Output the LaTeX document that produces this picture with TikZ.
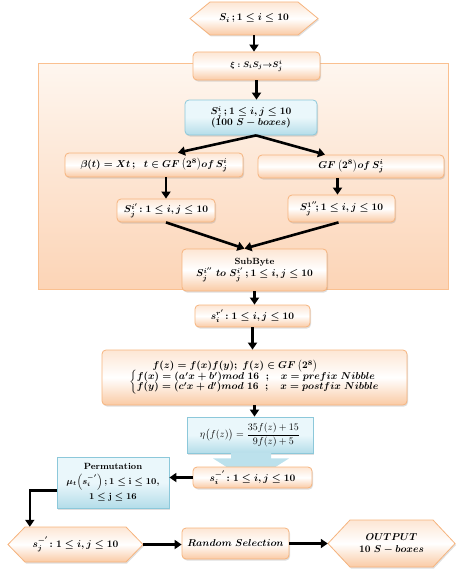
\documentclass[tikz,border=0pt]{standalone}
\usepackage{amsmath,amssymb}
\usetikzlibrary{arrows.meta,shadows,calc}
\definecolor{oBorder}{RGB}{246,180,126}
\definecolor{oTop}{RGB}{253,230,212}
\definecolor{oBot}{RGB}{250,202,164}
\definecolor{bBorder}{RGB}{140,200,218}
\definecolor{bTop}{RGB}{234,247,251}
\definecolor{bBot}{RGB}{180,221,233}
\definecolor{fTop}{RGB}{254,246,239}
\definecolor{fBot}{RGB}{252,212,182}
\definecolor{fBorder}{RGB}{250,192,144}
\tikzset{
  basebox/.style={line width=0.8pt, inner sep=1pt, align=center,
    font=\fontsize{10}{12}\selectfont\boldmath,
    drop shadow={shadow xshift=1pt, shadow yshift=-1.5pt, opacity=0.25}},
  obox/.style={basebox, draw=oBorder, rounded corners=4pt,
    top color=oTop, bottom color=oBot, middle color=white},
  bbox/.style={basebox, draw=bBorder, rounded corners=4pt,
    top color=bTop, bottom color=bBot, middle color=bTop},
  bsq/.style={basebox, draw=bBorder, top color=bTop, bottom color=bBot, middle color=bTop},
  hexfill/.style={draw=oBorder, line width=0.8pt, top color=oTop, bottom color=oBot, middle color=white,
    drop shadow={shadow xshift=1pt, shadow yshift=-1.5pt, opacity=0.25}},
  hextext/.style={inner sep=1pt, align=center, font=\fontsize{10}{12}\selectfont\boldmath},
  frame/.style={draw=fBorder, line width=0.8pt, top color=fTop, bottom color=fBot},
  arr/.style={line width=2.6pt, -{Triangle[width=9pt,length=7pt]}},
  calloutfill/.style={fill=bBot!85!bTop, draw=none},
}
\newcommand\hexnode[7]{%
  \path[hexfill] ({#2-#4/2},#3) -- ({#2-#4/2+#6},{#3-#5/2}) -- ({#2+#4/2-#6},{#3-#5/2})
    -- ({#2+#4/2},#3) -- ({#2+#4/2-#6},{#3+#5/2}) -- ({#2-#4/2+#6},{#3+#5/2}) -- cycle;
  \node[hextext, minimum width=#4, minimum height=#5] (#1) at (#2,#3) {#7};}
\begin{document}
\begin{tikzpicture}[x=1pt,y=-1pt]
\useasboundingbox (0,0) rectangle (467,578);
% frame
\node[frame, anchor=north west, minimum width=410, minimum height=226, inner sep=0pt] (frm) at (38,63) {};
% top hexagon
\hexnode{top}{254}{18.5}{128}{33}{20}{$S_i\,;1\leq i\leq 10$}
\node[obox, minimum width=127, minimum height=28, font=\fontsize{8}{10}\selectfont\boldmath] (xi) at (256.5,66) {$\xi : S_iS_j{\rightarrow}S^i_j$};
\node[bbox, minimum width=132, minimum height=35] (b1) at (251,117.5) {$S_j^i\,;1\leq i,j\leq 10$\\[-1pt] $(100\ S-boxes)$};
\node[obox, minimum width=178, minimum height=24] (beta) at (154,165) {$\beta(t)=Xt\,;\ \ t\in GF\left(2^8\right)\!of\,S_j^i$};
\node[obox, minimum width=186, minimum height=23] (gf) at (351,166.5) {$GF\left(2^8\right)\!of\,S_j^i$};
\node[obox, minimum width=98, minimum height=23] (sl) at (166,210.5) {$S_j^{i'}\!:1\leq i,j\leq 10$};
\node[obox, minimum width=107, minimum height=27] (sr) at (341.5,208.5) {$S_j^{1''}\!;1\leq i,j\leq 10$};
\node[obox, minimum width=145, minimum height=42] (sub) at (254.5,270) {\textbf{\fontsize{9}{11}\selectfont SubByte}\\ $S_j^{i''}\ to\ S_j^{i'}\,;1\leq i,j\leq 10$};
\node[obox, minimum width=115, minimum height=22] (sp) at (252.5,316) {$s_i^{r'}\!:1\leq i,j\leq 10$};
\node[obox, minimum width=305, minimum height=55] (fb) at (254.5,377.5) {$\begin{array}{@{}l@{}}\qquad\ f(z)=f(x)f(y);\ f(z)\in GF\left(2^8\right)\\[-2pt]
 \left\{\begin{array}{@{}l@{}}f(x)=(a'x+b')mod\ 16\ \ ;\ \ \ x=prefix\ Nibble\\[-2pt] f(y)=(c'x+d')mod\ 16\ \ ;\ \ \ x=postfix\ Nibble\end{array}\right.\end{array}$};
\node[bsq, minimum width=126, minimum height=36, font=\fontsize{10}{12}\selectfont\unboldmath] (eta) at (250,435) {$\eta\big(f(z)\big)=\dfrac{35f(z)+15}{9f(z)+5}$};
% callout arrow
\path[calloutfill] ($(eta.south)+(-19,-1)$) -- ($(eta.south)+(-19,5)$) -- ($(eta.south)+(-37,5)$)
  -- ($(eta.south)+(1,29)$) -- ($(eta.south)+(39,5)$) -- ($(eta.south)+(21,5)$) -- ($(eta.south)+(21,-1)$) -- cycle;
\node[obox, minimum width=119, minimum height=21] (sm) at (252.5,477.5) {$s_i^{-'}\!:1\leq i,j\leq 10$};
\node[bsq, minimum width=112, minimum height=51, font=\fontsize{9}{10}\selectfont\boldmath] (perm) at (113,482.5) {\textbf{Permutation}\\[3pt] $\mu_t\!\left(s_i^{-'}\right);1\leq \mathrm{i}\leq 10,$\\[2pt] $1\leq \mathrm{j}\leq 16$};
\hexnode{bh}{75.5}{544.5}{135}{35}{17}{$s_j^{-'}\!:1\leq i,j\leq 10$}
\node[obox, minimum width=107, minimum height=31] (rs) at (235.5,543.5) {$Random\ Selection$};
\hexnode{out}{391.5}{543.5}{127}{47}{22}{$OUTPUT$\\ $10\ S-boxes$}
% connectors
\draw[arr] (top.south) -- (top.south |- xi.north);
\draw[arr] (xi.south) -- (xi.south |- b1.north);
\draw[arr] ($(b1.south)+(5,0)$) -- ($(beta.north)+(24,0)$);
\draw[arr] ($(b1.south)+(5,0)$) -- ($(gf.north)+(-26,0)$);
\draw[arr] (sl.north |- beta.south) -- (sl.north);
\draw[arr] ($(sr.north |- gf.south)+(-4,0)$) -- ($(sr.north)+(-4,0)$);
\draw[arr] (sl.south) -- ($(sub.north)+(-10,0)$);
\draw[arr] ($(sr.south)+(-3,0)$) -- ($(sub.north)+(-10,0)$);
\draw[arr] (sub.south) -- (sub.south |- sp.north);
\draw[arr] (sp.south) -- (sp.south |- fb.north);
\draw[arr] (fb.south) -- (fb.south |- eta.north);
\draw[arr] (sm.west) -- (sm.west -| perm.east);
\coordinate (pcorner) at ($(perm.west)+(0,8)$);
\draw[arr] (pcorner) -| ($(bh.north west)+(22,0)$);
\draw[arr] (bh.east) -- (bh.east -| rs.west);
\draw[arr] (rs.east) -- (rs.east -| out.west);
\end{tikzpicture}
\end{document}
